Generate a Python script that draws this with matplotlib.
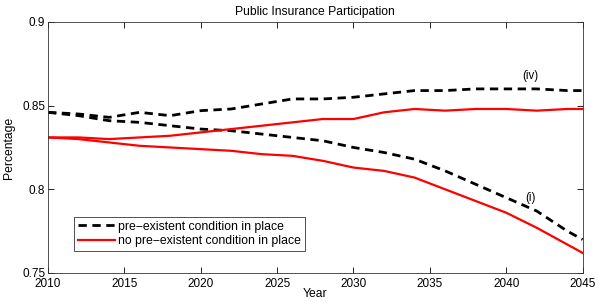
import numpy as np
import matplotlib
matplotlib.use('Agg')
import matplotlib.pyplot as plt

plt.rcParams['font.family'] = ['Liberation Sans', 'DejaVu Sans']

# years on the x axis
years = [2010, 2012, 2014, 2016, 2018, 2020, 2022, 2024, 2026, 2028,
         2030, 2032, 2034, 2036, 2038, 2040, 2042, 2044, 2045]

# pre-existent condition in place, scenario (iv)
pre_iv = [0.846, 0.845, 0.843, 0.846, 0.844, 0.847, 0.848, 0.851, 0.854, 0.854,
          0.855, 0.857, 0.859, 0.859, 0.860, 0.860, 0.860, 0.859, 0.859]
# pre-existent condition in place, scenario (i)
pre_i = [0.846, 0.844, 0.841, 0.840, 0.838, 0.836, 0.835, 0.833, 0.831, 0.829,
         0.825, 0.822, 0.818, 0.811, 0.803, 0.795, 0.787, 0.775, 0.770]
# no pre-existent condition, scenario (iv)
nopre_iv = [0.831, 0.831, 0.830, 0.831, 0.832, 0.834, 0.836, 0.838, 0.840, 0.842,
            0.842, 0.846, 0.848, 0.847, 0.848, 0.848, 0.847, 0.848, 0.848]
# no pre-existent condition, scenario (i)
nopre_i = [0.831, 0.830, 0.828, 0.826, 0.825, 0.824, 0.823, 0.821, 0.820, 0.817,
           0.813, 0.811, 0.807, 0.800, 0.793, 0.786, 0.777, 0.767, 0.762]

labels = ['pre\u2212existent condition in place',
          'no pre\u2212existent condition in place']

fig = plt.figure(figsize=(6.0, 3.05), dpi=100)
ax = fig.add_axes([0.08, 0.105, 0.891, 0.823])

dash = (3, 2)
ax.plot(years, pre_iv, color='black', lw=2, dashes=dash, label=labels[0])
ax.plot(years, pre_i, color='black', lw=2, dashes=dash)
ax.plot(years, nopre_iv, color='#ff0000', lw=1.6, label=labels[1])
ax.plot(years, nopre_i, color='#ff0000', lw=1.6)

# scenario labels
ax.text(2041.6, 0.8677, '(iv)', fontsize=8.3, ha='center', va='center')
ax.text(2041.6, 0.795, '(i)', fontsize=8.3, ha='center', va='center')

ax.set_xlim(2010, 2045)
ax.set_ylim(0.75, 0.9)
ax.set_xticks([2010, 2015, 2020, 2025, 2030, 2035, 2040, 2045])
ax.set_yticks([0.75, 0.8, 0.85, 0.9])
ax.set_yticklabels(['0.75', '0.8', '0.85', '0.9'])
ax.tick_params(direction='in', top=True, right=True, labelsize=8.5,
               length=4, width=0.6, pad=2)
ax.tick_params(axis='x', pad=3.5)
for s in ax.spines.values():
    s.set_linewidth(0.6)
    s.set_color('#333333')

ax.set_title('Public Insurance Participation', fontsize=8.7, pad=5)
ax.set_xlabel('Year', fontsize=8.7, labelpad=-1)
ax.set_ylabel('Percentage', fontsize=8.7, labelpad=5)

leg = ax.legend(loc='lower left', bbox_to_anchor=(0.049, 0.088), fontsize=8.8,
                frameon=True, fancybox=False, borderaxespad=0,
                handlelength=3.0, handletextpad=0.3, labelspacing=0.2,
                borderpad=0.3)
leg.get_frame().set_edgecolor('black')
leg.get_frame().set_linewidth(0.6)

fig.savefig('out.png', dpi=100)
